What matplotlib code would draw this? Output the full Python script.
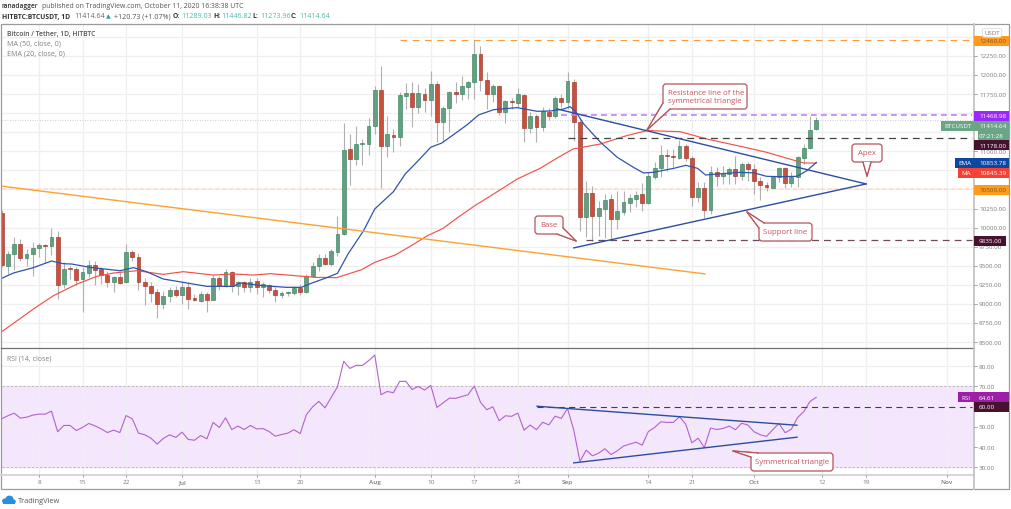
import matplotlib
matplotlib.use('Agg')
import matplotlib.pyplot as plt
from matplotlib.patches import FancyBboxPatch, Polygon, Rectangle, Ellipse

plt.rcParams['font.family'] = ['Open Sans', 'DejaVu Sans']

# daily candles, index 0 = 2 Jun 2020
opens = [10191, 9501, 9649, 9780, 9601, 9654, 9732, 9767, 9763, 9872,
         9260, 9466, 9457, 9326, 9405, 9509, 9457, 9378, 9291, 9348,
         9282, 9676, 9610, 9282, 9230, 9151, 8994, 9107, 9182, 9116,
         9221, 9072, 9042, 9125, 9055, 9335, 9239, 9422, 9230, 9282,
         9221, 9295, 9225, 9243, 9186, 9120, 9147, 9147, 9204, 9151,
         9370, 9501, 9597, 9523, 9685, 9916, 11030, 10899, 11091, 11095,
         11330, 11803, 11065, 11213, 11183, 11729, 11760, 11585, 11751, 11677,
         11882, 11379, 11563, 11773, 11751, 11847, 11904, 12280, 11939, 11747,
         11851, 11519, 11663, 11637, 11742, 11309, 11458, 11323, 11519, 11458,
         11698, 11642, 11904, 11389, 10143, 10449, 10156, 10248, 10375, 10112,
         10209, 10322, 10375, 10436, 10318, 10659, 10777, 10952, 10934, 10912,
         11065, 10912, 10405, 10515, 10231, 10724, 10681, 10707, 10768, 10681,
         10834, 10768, 10615, 10563, 10523, 10659, 10781, 10584, 10659, 10912,
         11043, 11289.03]
closes = [9510, 9654, 9785, 9597, 9654, 9732, 9772, 9763, 9872, 9252,
          9457, 9457, 9317, 9413, 9509, 9448, 9378, 9291, 9352, 9273,
          9676, 9610, 9282, 9239, 9142, 8994, 9107, 9182, 9116, 9221,
          9064, 9046, 9125, 9055, 9335, 9239, 9422, 9230, 9282, 9221,
          9282, 9225, 9260, 9186, 9120, 9147, 9151, 9204, 9151, 9370,
          9501, 9597, 9518, 9694, 9916, 11018, 10899, 11095, 11100, 11336,
          11803, 11065, 11226, 11183, 11738, 11764, 11585, 11760, 11677, 11882,
          11379, 11563, 11773, 11751, 11851, 11904, 12275, 11939, 11747, 11851,
          11519, 11663, 11642, 11747, 11309, 11458, 11323, 11528, 11458, 11698,
          11642, 11917, 11379, 10143, 10449, 10156, 10252, 10362, 10112, 10213,
          10331, 10383, 10427, 10318, 10681, 10777, 10952, 10934, 10930, 11074,
          10912, 10405, 10515, 10235, 10724, 10681, 10716, 10768, 10681, 10834,
          10768, 10615, 10563, 10528, 10659, 10777, 10584, 10667, 10921, 11043,
          11279, 11414.64]
highs = [10230, 9690, 9872, 9850, 9719, 9807, 9798, 9785, 9990, 9960,
         9544, 9500, 9479, 9479, 9579, 9566, 9479, 9435, 9370, 9435,
         9785, 9706, 9667, 9335, 9282, 9195, 9173, 9217, 9230, 9282,
         9282, 9129, 9173, 9160, 9378, 9361, 9457, 9435, 9304, 9304,
         9335, 9339, 9282, 9260, 9217, 9173, 9170, 9239, 9260, 9392,
         9544, 9654, 9650, 9719, 10148, 11371, 11226, 11336, 11161, 11432,
         11860, 12114, 11467, 11292, 11773, 11895, 11904, 11882, 11825, 12057,
         11926, 11589, 11795, 11904, 11982, 11926, 12459, 12376, 12035, 11882,
         11869, 11677, 11698, 11825, 11751, 11510, 11489, 11576, 11563, 11720,
         11751, 12044, 11948, 11440, 10615, 10550, 10353, 10440, 10440, 10484,
         10484, 10440, 10484, 10580, 10724, 10855, 11083, 11030, 11030, 11153,
         11096, 10934, 10602, 10593, 10803, 10790, 10812, 10790, 10934, 10864,
         10855, 10834, 10659, 10593, 10681, 10790, 10790, 10724, 10934, 11096,
         11467, 11446.82]
lows = [9480, 9392, 9444, 9566, 9501, 9361, 9610, 9531, 9640, 9064,
        9204, 9326, 9247, 8898, 9348, 9247, 9260, 9225, 9160, 9260,
        9269, 9566, 9186, 8989, 9020, 8810, 8933, 9020, 9085, 8998,
        8933, 9033, 9029, 8889, 9050, 9186, 9217, 9151, 9116, 9160,
        9151, 9129, 9085, 9142, 9029, 9081, 9110, 9116, 9120, 9142,
        9348, 9435, 9510, 9501, 9632, 9905, 10558, 10820, 10820, 10951,
        11226, 10514, 10920, 10986, 11073, 11554, 11314, 11502, 11511, 11458,
        11117, 11139, 11248, 11633, 11677, 11685, 11685, 11786, 11554, 11642,
        11476, 11371, 11554, 11576, 11117, 11235, 11117, 11270, 11414, 11432,
        11576, 11554, 11139, 9950, 9881, 9828, 9894, 9859, 9850, 9981,
        10165, 10200, 10266, 10222, 10309, 10640, 10659, 10746, 10790, 10899,
        10877, 10287, 10340, 10121, 10178, 10550, 10571, 10571, 10571, 10624,
        10615, 10440, 10366, 10484, 10515, 10593, 10515, 10528, 10528, 10833,
        11030, 11273.96]

ema_days = [0, 1.9, 5.1, 8, 9.9, 11.3, 14.2, 19, 21.2, 23.3, 26, 29.2, 33, 37.3, 38.3,
            42, 45.8, 48.2, 49.9, 52, 54, 55.7, 58.2, 60, 63, 64.9, 67, 69, 70.8,
            74.8, 76.7, 79.1, 82.9, 86.1, 88.2, 90.4, 91.4, 92.2, 93.6, 96.3, 99,
            101.6, 103.2, 104.8, 108.1, 110, 111.9, 113.2, 115, 118.8, 121, 123,
            125.2, 127.9, 129.5, 131]
ema_vals = [9335, 9405, 9475, 9562, 9527, 9522, 9479, 9435, 9475, 9422, 9326, 9282, 9230, 9230, 9274,
            9239, 9217, 9217, 9274, 9335, 9401, 9654, 9960, 10244, 10471, 10703, 10878, 11053, 11109,
            11344, 11476, 11545, 11572, 11524, 11528, 11554, 11585, 11533, 11358, 11118, 10921,
            10790, 10716, 10724, 10777, 10816, 10777, 10689, 10702, 10724, 10716, 10672,
            10667, 10672, 10746, 10854]
ma_days = [0, 5.1, 8.3, 12.1, 15.3, 18, 21.7, 26, 29.2, 34, 37.3, 40.5, 43.2, 47.2, 50.4, 53.9,
           57.9, 60, 63.3, 65.9, 68.3, 71, 73.4, 76.1, 79.3, 82.9, 86.6, 89.8, 91.9, 96.3,
           100.5, 103.8, 109.1, 113.4, 118.8, 123, 126.3, 129, 131]
ma_vals = [8635, 8933, 9107, 9260, 9361, 9405, 9435, 9387, 9422, 9378, 9392, 9378, 9396, 9370, 9348, 9344,
           9449, 9545, 9641, 9764, 9886, 9991, 10135, 10288, 10450, 10636, 10777, 10934, 11030, 11096,
           11205, 11271, 11257, 11161, 11065, 10987, 10908, 10847, 10845]

rsi = [54.0, 55.5, 56.8, 54.3, 54.8, 55.8, 56.3, 56.3, 57.8, 47.6,
       50.7, 50.7, 48.2, 49.7, 51.7, 50.5, 49.0, 47.2, 48.4, 47.2,
       55.6, 54.0, 46.9, 46.1, 44.4, 41.5, 44.3, 46.1, 44.8, 47.4,
       43.8, 43.4, 45.7, 44.1, 52.2, 49.7, 54.5, 48.7, 50.4, 48.7,
       50.7, 49.0, 49.2, 47.7, 45.4, 46.2, 46.9, 48.6, 46.7, 56.0,
       59.9, 62.6, 59.4, 64.6, 69.8, 82.4, 78.9, 80.4, 80.4, 82.7,
       85.5, 65.9, 67.5, 66.9, 72.5, 72.5, 68.5, 70.0, 68.2, 70.5,
       59.6, 61.9, 64.2, 64.1, 65.0, 65.9, 70.2, 62.2, 58.5, 59.9,
       53.0, 55.5, 55.2, 56.8, 48.4, 50.9, 48.6, 52.3, 51.0, 55.3,
       54.2, 59.1, 48.4, 32.9, 38.5, 35.7, 37.0, 39.2, 36.3, 38.2,
       40.5, 41.5, 42.4, 41.0, 47.7, 49.7, 52.5, 52.2, 52.2, 55.0,
       51.4, 42.1, 44.4, 39.8, 49.4, 48.7, 49.2, 50.4, 48.6, 51.8,
       50.9, 47.6, 46.1, 45.3, 48.6, 51.7, 47.1, 48.9, 54.6, 57.6,
       62.6, 64.61]

tick_days = [6, 13, 20, 29, 41, 48, 60, 69, 76, 83, 91, 104, 111, 121, 132, 139, 152]
tick_names = ['8', '15', '22', 'Jul', '13', '20', 'Aug', '10', '17', '24', 'Sep', '14', '21', 'Oct', '12', '19', 'Nov']
price_grid = [8500, 8750, 9000, 9250, 9500, 9750, 10000, 10250, 10500, 10750, 11000, 11250, 11500, 11750, 12000, 12250, 12500]
price_ticks = [8500, 8750, 9000, 9250, 9500, 9750, 10000, 10250, 11000, 11750, 12000, 12250]
rsi_ticks = [30, 40, 50, 60, 70, 80]

W, H = 1012, 510
PX0, PX1 = 2, 974      # pane left/right
PY0, PY1 = 25, 349     # price pane
RY0, RY1 = 349, 475    # rsi pane
day_px = 6.218
xlim = ((PX0 - 1.7) / day_px, (PX1 - 1.7) / day_px)

UP = '#659f81'
UP_EDGE = '#2c7a52'
DOWN = '#cc4f3c'
DOWN_EDGE = '#8e2a22'
GRID = '#efefef'
AXIS_TXT = '#7a7a7a'

fig = plt.figure(figsize=(W / 100, H / 100), dpi=100, facecolor='white')


def pane(y0, y1):
    return fig.add_axes([PX0 / W, 1 - y1 / H, (PX1 - PX0) / W, (y1 - y0) / H])


ax = pane(PY0, PY1)
ax.set_xlim(xlim)
ax.set_ylim(8422, 12668)
rs = pane(RY0, RY1)
rs.set_xlim(xlim)
rs.set_ylim(26.7, 89.0)

for a in (ax, rs):
    a.set_axisbelow(True)
    a.set_xticks(tick_days)
    a.tick_params(axis='both', length=0, labelbottom=False, labelleft=False)
    a.grid(True, axis='x', color=GRID, lw=0.9)
    for s in a.spines.values():
        s.set_visible(False)

ax.set_yticks(price_grid)
ax.grid(True, axis='y', color=GRID, lw=0.9)
rs.set_yticks(rsi_ticks)
rs.grid(True, axis='y', color=GRID, lw=0.9)

# horizontal levels
ax.axhline(11414.64, color='#bdbdbd', lw=0.6, ls=(0, (1, 2)), zorder=1)
ax.axhline(10500, color='#ffdcc8', lw=1.1, ls=(0, (3, 1.5)), zorder=1)

# candles
for i in range(len(opens)):
    col = UP if closes[i] >= opens[i] else DOWN
    edge = UP_EDGE if closes[i] >= opens[i] else DOWN_EDGE
    ax.vlines(i, lows[i], highs[i], color='#b0b0b0', lw=0.8, zorder=2)
    bottom = min(opens[i], closes[i])
    height = max(abs(closes[i] - opens[i]), 12)
    ax.bar(i, height, 0.62, bottom=bottom, color=col, edgecolor=edge, lw=0.4, zorder=3)

ax.plot(ma_days, ma_vals, color='#f2514c', lw=0.85, zorder=4)
ax.plot(ema_days, ema_vals, color='#2f55ab', lw=0.9, zorder=4)

# drawings on the chart
ax.plot([-0.3, 113.1], [10546, 9393], color='#ffa033', lw=1.0, zorder=4)
ax.plot([89.3, 139], [11555, 10572], color='#2c4ea0', lw=1.0, zorder=5)
ax.plot([92, 139], [9734, 10572], color='#2c4ea0', lw=1.0, zorder=5)
ax.plot([64, 156], [12460, 12460], color='#ff9a3c', lw=0.8, ls=(0, (6, 5)), zorder=4)
ax.plot([90, 156], [11468.98, 11468.98], color='#c084fc', lw=1.2, ls=(0, (3.5, 2.5)), zorder=4)
ax.plot([91, 156], [11178, 11178], color='#444444', lw=0.9, ls=(0, (5.5, 4)), zorder=4)
ax.plot([94, 156], [9835, 9835], color='#6d4a5c', lw=0.9, ls=(0, (5.5, 4)), zorder=4)

# rsi pane
rs.axhspan(30, 70, color='#f4e6fc', zorder=0)
rs.axhline(70, color='#b9afbd', lw=0.6, ls=(0, (3, 2)), zorder=1)
rs.axhline(30, color='#b9afbd', lw=0.6, ls=(0, (3, 2)), zorder=1)
rs.plot(range(len(rsi)), rsi, color='#b262d0', lw=0.8, zorder=3)
rs.plot([86.1, 156], [60, 60], color='#5a3344', lw=0.8, ls=(0, (5.5, 4)), zorder=3)
rs.plot([86.1, 127.9], [60.2, 50.8], color='#2c4ea0', lw=1.0, zorder=4)
rs.plot([92, 127.9], [32.2, 44.9], color='#2c4ea0', lw=1.0, zorder=4)

# overlay in pixel coordinates for the chart frame, labels and callouts
ov = fig.add_axes([0, 0, 1, 1], facecolor='none')
ov.set_xlim(0, W)
ov.set_ylim(H, 0)
ov.axis('off')

ov.add_patch(Rectangle((1.5, 24.5), 1008, 465.5, fill=False, ec='#9b9b9b', lw=0.9))
ov.plot([1.5, 974], [349, 349], color='#707070', lw=0.9)
ov.plot([1.5, 974], [475.5, 475.5], color='#d6d6d6', lw=1.4)
ov.plot([974.5, 974.5], [24.5, 490], color='#c4c4c4', lw=1.3)


def price_y(v):
    return 349 - (v - 8422) / (12668 - 8422) * 324


def rsi_y(v):
    return 475 - (v - 26.7) / (89.0 - 26.7) * 126


def day_x(d):
    return 1.7 + d * day_px


for v in price_ticks:
    y = price_y(v)
    ov.plot([974.5, 977], [y, y], color='#8a8a8a', lw=0.5)
    ov.text(979, y, '%.2f' % v, fontsize=4.5, color=AXIS_TXT, va='center')
for v in rsi_ticks:
    y = rsi_y(v)
    ov.plot([974.5, 977], [y, y], color='#8a8a8a', lw=0.5)
    ov.text(979, y, '%.2f' % v, fontsize=4.5, color=AXIS_TXT, va='center')
for d, name in zip(tick_days, tick_names):
    bold = name in ('Jul', 'Aug', 'Sep', 'Oct', 'Nov')
    ov.plot([day_x(d), day_x(d)], [475.5, 478], color='#8a8a8a', lw=0.5)
    ov.text(day_x(d), 483, name, fontsize=4.6, color=AXIS_TXT, ha='center', va='center',
            fontweight='semibold' if bold else 'normal')


def tag(y, text, bg, fg='white', x0=974.5, x1=1009, h=10, name=None, name_x=None):
    ov.add_patch(Rectangle((x0, y - h / 2), x1 - x0, h, fc=bg, ec='none', zorder=6))
    ov.text(979, y, text, fontsize=4.5, color=fg, va='center', zorder=7, fontweight='medium')
    if name:
        ov.add_patch(Rectangle((name_x, y - h / 2), x0 - name_x - 0.5, h, fc=bg, ec='none', zorder=6))
        ov.text((name_x + x0) / 2, y, name, fontsize=4.5, color=fg, ha='center', va='center', zorder=7)


tag(41.5, '12460.00', '#ff9a1f', fg='#7a5a20')
tag(117, '11468.98', '#9c27ff')
tag(126.7, '11414.64', '#6ba587', name='BTCUSDT', name_x=941)
tag(137, '07:21:28', '#6ba587', x0=978)
tag(146.3, '11178.00', '#47122f', x1=1009)
tag(164, '10853.78', '#0d47a1', name='EMA', name_x=955)
tag(174, '10845.39', '#f44336', name='MA', name_x=958)
tag(190.7, '10500.00', '#ff9a1f', fg='#7a5a20')
tag(241.7, '9835.00', '#47122f', x1=1006)
tag(rsi_y(64.61), '64.61', '#9c1fa5', name='RSI', name_x=958)
tag(rsi_y(60), '60.00', '#47122f')

ov.add_patch(FancyBboxPatch((983, 30), 18, 7.5, boxstyle='round,pad=0.6,rounding_size=2',
                            fc='white', ec='#dddddd', lw=0.6, zorder=8))
ov.text(992, 33.8, 'USDT', fontsize=4.4, color=AXIS_TXT, ha='center', va='center', zorder=9)


def callout(x0, y0, x1, y1, tail, text, tx=None, ha='center'):
    ov.add_patch(Polygon(tail, closed=True, fc='white', ec='#b5535a', lw=0.9, zorder=7))
    ov.add_patch(FancyBboxPatch((x0 + 3, y0 + 3), x1 - x0 - 6, y1 - y0 - 6,
                                boxstyle='round,pad=3,rounding_size=3',
                                fc='white', ec='#b5535a', lw=0.9, zorder=8))
    ov.add_patch(Polygon(tail, closed=True, fc='white', ec='none', zorder=9))
    ov.plot([tail[0][0], tail[1][0]], [tail[0][1], tail[1][1]], color='#b5535a', lw=0.9, zorder=10)
    ov.plot([tail[1][0], tail[2][0]], [tail[1][1], tail[2][1]], color='#b5535a', lw=0.9, zorder=10)
    if tx is None:
        tx = (x0 + x1) / 2
    ov.text(tx, (y0 + y1) / 2, text, fontsize=5.6, color='#c2575d', ha=ha, va='center',
            linespacing=1.05, zorder=11)


callout(663, 85, 747, 110, [(663, 104), (647, 131), (670, 110)],
        'Resistance line of the\nsymmetrical triangle', tx=668, ha='left')
callout(852, 145, 882, 163, [(863, 163), (867, 177), (871, 163)], 'Apex')
callout(759, 224, 812, 242, [(759, 229), (747, 213), (764, 224)], 'Support line')
callout(535, 217, 563, 235, [(563, 229), (576, 242), (557, 235)], 'Base')
callout(751, 454, 833, 472, [(751, 458), (733, 452), (758, 454)], 'Symmetrical triangle')

# header
ov.text(2, 7, 'ranadagger', fontsize=4.8, color='#333333', fontweight='semibold', va='center')
ov.text(42, 7, 'published on TradingView.com, October 11, 2020 16:38:38 UTC', fontsize=4.95,
        color='#555555', va='center')
ov.text(2, 17, 'HITBTC:BTCUSDT, 1D', fontsize=4.9, color='#333333', fontweight='bold', va='center')
ov.text(74, 17, '11414.64', fontsize=5.1, color='#666666', va='center')
ov.text(106, 17, '▲', fontsize=4.4, color='#26a69a', va='center')
ov.text(114, 17, '+120.73 (+1.07%)', fontsize=5.1, color='#555555', va='center')
for x, s in [(173, 'O:'), (213, 'H:'), (252, 'L:'), (291, 'C:')]:
    ov.text(x, 17, s, fontsize=4.9, color='#333333', fontweight='bold', va='center')
for x, s in [(181, '11289.03'), (221, '11446.82'), (260, '11273.96'), (299, '11414.64')]:
    ov.text(x, 17, s, fontsize=5.1, color='#4db6ac', va='center')

# pane legends
ov.text(7, 34.5, 'Bitcoin / Tether, 1D, HITBTC', fontsize=4.9, color='#555555', fontweight='semibold', va='center')
ov.text(7, 44, 'MA (50, close, 0)', fontsize=5.1, color='#808080', va='center')
ov.text(7, 54, 'EMA (20, close, 0)', fontsize=5.1, color='#808080', va='center')
ov.text(7, 359, 'RSI (14, close)', fontsize=5.0, color='#808080', va='center')

# logo
for cx, cy, rx, ry in [(5.5, 502, 3.5, 2.6), (9.5, 500, 4, 3.4), (13, 502.5, 2.8, 2.2)]:
    ov.add_patch(Ellipse((cx, cy), 2 * rx, 2 * ry, fc='#2a8fe0', ec='none'))
ov.add_patch(Rectangle((3, 502), 12, 2.5, fc='#2a8fe0', ec='none'))
ov.text(18, 501.5, 'TradingView', fontsize=5.3, color='#555555', va='center')

plt.savefig('out.png', dpi=100)
